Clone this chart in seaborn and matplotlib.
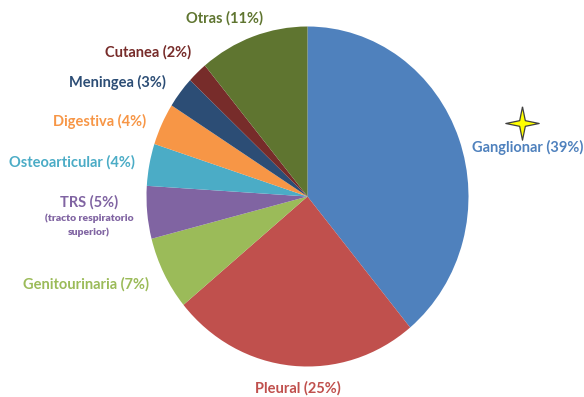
import matplotlib
matplotlib.use("Agg")
import numpy as np
import matplotlib.pyplot as plt
import seaborn as sns

sns.set_theme(style="white")
plt.rcParams['font.family'] = ['Lato', 'DejaVu Sans']

categories = ["Ganglionar", "Pleural", "Genitourinaria", "TRS", "Osteoarticular",
              "Digestiva", "Meningea", "Cutanea", "Otras"]
values = [39, 25, 7, 5, 4, 4, 3, 2, 11]
colors = ["#4F81BD", "#C0504D", "#9BBB59", "#8064A2", "#4BACC6",
          "#F79646", "#2C4D75", "#772C2A", "#5F7530"]
label_texts = [f"{c} ({v}%)" for c, v in zip(categories, values)]

W, H = 584, 397
fig = plt.figure(figsize=(W / 100, H / 100), dpi=100)

# pie axes (slightly elliptical as in the reference)
cx, cy, rx, ry = 307.5, 196.5, 161, 170
ax = fig.add_axes([(cx - rx) / W, 1 - (cy + ry) / H, 2 * rx / W, 2 * ry / H])
ax.pie(values, colors=colors, startangle=90, counterclock=False,
       wedgeprops=dict(linewidth=0))
ax.set_aspect('auto')
ax.set_xlim(-1, 1)
ax.set_ylim(-1, 1)
ax.axis('off')

# label positions (pixel centres)
label_pos = {
    "Ganglionar": (528, 147),
    "Pleural": (298, 388),
    "Genitourinaria": (86, 284),
    "TRS": (89, 202),
    "Osteoarticular": (72, 162),
    "Digestiva": (100, 121),
    "Meningea": (117, 82),
    "Cutanea": (148, 52),
    "Otras": (225, 18),
}
for c, t, col in zip(categories, label_texts, colors):
    x, y = label_pos[c]
    fig.text(x / W, 1 - y / H, t, color=col, fontsize=10.5, fontweight='bold',
             ha='center', va='center')

fig.text(89 / W, 1 - 218 / H, "(tracto respiratorio", color=colors[3], fontsize=7.5,
         fontweight='heavy', ha='center', va='center')
fig.text(89 / W, 1 - 232 / H, "superior)", color=colors[3], fontsize=7.5,
         fontweight='heavy', ha='center', va='center')

# decorative four-point star marker
ang = np.linspace(0, 2 * np.pi, 9)[:-1] + np.pi / 2
rad = np.where(np.arange(8) % 2 == 0, 1.0, 0.24)
star = list(zip(rad * np.cos(ang), rad * np.sin(ang)))
star.append(star[0])

ov = fig.add_axes([0, 0, 1, 1], facecolor='none')
ov.set_xlim(0, W)
ov.set_ylim(H, 0)
ov.axis('off')
ov.plot([522], [123], marker=star, markersize=24, markerfacecolor='#FFFF00',
        markeredgecolor='#404040', markeredgewidth=0.9)

fig.savefig("out.png", dpi=100)
